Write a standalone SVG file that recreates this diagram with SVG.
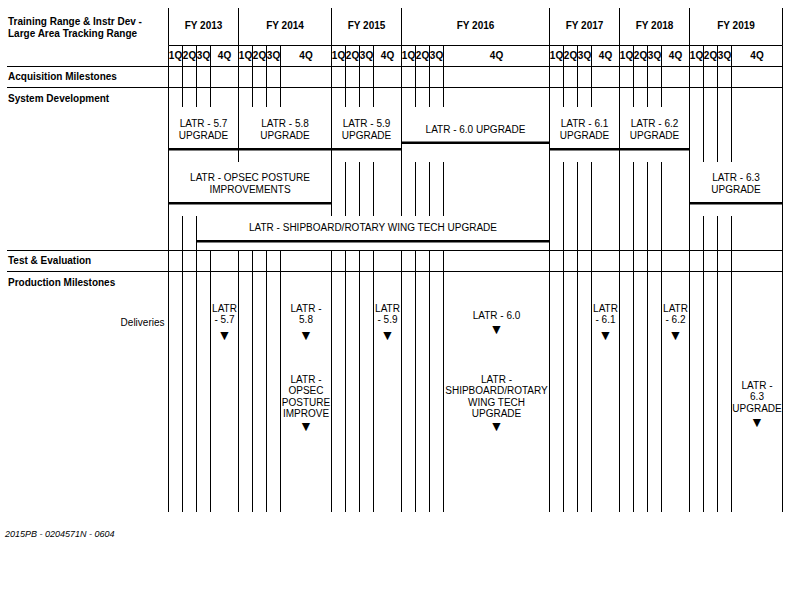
<svg xmlns="http://www.w3.org/2000/svg" width="792" height="612" viewBox="0 0 792 612">
<style>
text{font-family:"Liberation Sans",Arial,"DejaVu Sans",sans-serif;font-size:10px;fill:#000}
.b{font-weight:bold}
.m{text-anchor:middle}
.r{text-anchor:end}
.tri{font-size:14px}
.ft{font-size:9px;font-style:italic}
.g{stroke:#000;stroke-width:1;fill:none}
.t{stroke:#000;stroke-width:2.4;fill:none}
</style>
<rect width="792" height="612" fill="#fff"/>
<g id="connectors">
<path class="g" d="M168.5 8V45.5M238.5 8V45.5M331.5 8V45.5M401.5 8V45.5M549.5 8V45.5M619.5 8V45.5M689.5 8V45.5M782.5 8V45.5"/>
<path class="g" d="M168.5 45.5V107M182.5 45.5V107M196.5 45.5V107M210.5 45.5V107M238.5 45.5V107M252.5 45.5V107M266.5 45.5V107M280.5 45.5V107M331.5 45.5V107M345.5 45.5V107M359.5 45.5V107M373.5 45.5V107M401.5 45.5V107M415.5 45.5V107M429.5 45.5V107M443.5 45.5V107M549.5 45.5V107M563.5 45.5V107M577.5 45.5V107M591.5 45.5V107M619.5 45.5V107M633.5 45.5V107M647.5 45.5V107M661.5 45.5V107M689.5 45.5V107M703.5 45.5V107M717.5 45.5V107M731.5 45.5V107M782.5 45.5V107"/>
<path class="g" d="M168.5 107V162M238.5 107V162M331.5 107V162M401.5 107V162M549.5 107V162M619.5 107V162M689.5 107V162M703.5 107V162M717.5 107V162M731.5 107V162M782.5 107V162"/>
<path class="g" d="M168.5 162V216M331.5 162V216M345.5 162V216M359.5 162V216M373.5 162V216M401.5 162V216M415.5 162V216M429.5 162V216M443.5 162V216M549.5 162V216M563.5 162V216M577.5 162V216M591.5 162V216M619.5 162V216M633.5 162V216M647.5 162V216M661.5 162V216M689.5 162V216M782.5 162V216"/>
<path class="g" d="M168.5 216V250M182.5 216V250M196.5 216V250M549.5 216V250M563.5 216V250M577.5 216V250M591.5 216V250M619.5 216V250M633.5 216V250M647.5 216V250M661.5 216V250M689.5 216V250M703.5 216V250M717.5 216V250M731.5 216V250M782.5 216V250"/>
<path class="g" d="M168.5 250V512M182.5 250V512M196.5 250V512M210.5 250V512M238.5 250V512M252.5 250V512M266.5 250V512M280.5 250V512M331.5 250V512M345.5 250V512M359.5 250V512M373.5 250V512M401.5 250V512M415.5 250V512M429.5 250V512M443.5 250V512M549.5 250V512M563.5 250V512M577.5 250V512M591.5 250V512M619.5 250V512M633.5 250V512M647.5 250V512M661.5 250V512M689.5 250V512M703.5 250V512M717.5 250V512M731.5 250V512M782.5 250V512"/>
<path class="g" d="M168.5 45.5H782.5M7 66.5H782.5M7 87.5H782.5M7 250.5H782.5M7 271.5H782.5"/>
</g>
<g id="header">
<text class="b" x="8" y="25">Training Range &amp; Instr Dev -</text>
<text class="b" x="8" y="36.7">Large Area Tracking Range</text>
<text class="b m" x="203.5" y="28.5">FY 2013</text>
<text class="b m" x="285" y="28.5">FY 2014</text>
<text class="b m" x="366.5" y="28.5">FY 2015</text>
<text class="b m" x="475.5" y="28.5">FY 2016</text>
<text class="b m" x="584.5" y="28.5">FY 2017</text>
<text class="b m" x="654.5" y="28.5">FY 2018</text>
<text class="b m" x="736" y="28.5">FY 2019</text>
<g>
<text class="b m" x="175.5" y="58.5">1Q</text><text class="b m" x="189.5" y="58.5">2Q</text><text class="b m" x="203.5" y="58.5">3Q</text><text class="b m" x="224.5" y="58.5">4Q</text>
<text class="b m" x="245.5" y="58.5">1Q</text><text class="b m" x="259.5" y="58.5">2Q</text><text class="b m" x="273.5" y="58.5">3Q</text><text class="b m" x="306" y="58.5">4Q</text>
<text class="b m" x="338.5" y="58.5">1Q</text><text class="b m" x="352.5" y="58.5">2Q</text><text class="b m" x="366.5" y="58.5">3Q</text><text class="b m" x="387.5" y="58.5">4Q</text>
<text class="b m" x="408.5" y="58.5">1Q</text><text class="b m" x="422.5" y="58.5">2Q</text><text class="b m" x="436.5" y="58.5">3Q</text><text class="b m" x="496.5" y="58.5">4Q</text>
<text class="b m" x="556.5" y="58.5">1Q</text><text class="b m" x="570.5" y="58.5">2Q</text><text class="b m" x="584.5" y="58.5">3Q</text><text class="b m" x="605.5" y="58.5">4Q</text>
<text class="b m" x="626.5" y="58.5">1Q</text><text class="b m" x="640.5" y="58.5">2Q</text><text class="b m" x="654.5" y="58.5">3Q</text><text class="b m" x="675.5" y="58.5">4Q</text>
<text class="b m" x="696.5" y="58.5">1Q</text><text class="b m" x="710.5" y="58.5">2Q</text><text class="b m" x="724.5" y="58.5">3Q</text><text class="b m" x="757" y="58.5">4Q</text>
</g>
<text class="b" x="8" y="80">Acquisition Milestones</text>
<text class="b" x="8" y="101.7">System Development</text>
<text class="b" x="8" y="264">Test &amp; Evaluation</text>
<text class="b" x="8" y="285.5">Production Milestones</text>
<text class="r" x="164.5" y="326">Deliveries</text>
</g>
<g id="bar-5-7"><text class="m" x="203.5" y="127.3">LATR - 5.7</text><text class="m" x="203.5" y="138.8">UPGRADE</text><path class="t" d="M168.5 149.3H238.5"/></g>
<g id="bar-5-8"><text class="m" x="285" y="127.3">LATR - 5.8</text><text class="m" x="285" y="138.8">UPGRADE</text><path class="t" d="M238.5 149.3H331.5"/></g>
<g id="bar-5-9"><text class="m" x="366.5" y="127.3">LATR - 5.9</text><text class="m" x="366.5" y="138.8">UPGRADE</text><path class="t" d="M331.5 149.3H401.5"/></g>
<g id="bar-6-0"><text class="m" x="475.5" y="132.7">LATR - 6.0 UPGRADE</text><path class="t" d="M401.5 142.7H549.5"/></g>
<g id="bar-6-1"><text class="m" x="584.5" y="127.3">LATR - 6.1</text><text class="m" x="584.5" y="138.8">UPGRADE</text><path class="t" d="M549.5 149.3H619.5"/></g>
<g id="bar-6-2"><text class="m" x="654.5" y="127.3">LATR - 6.2</text><text class="m" x="654.5" y="138.8">UPGRADE</text><path class="t" d="M619.5 149.3H689.5"/></g>
<g id="bar-opsec"><text class="m" x="250" y="181.2">LATR - OPSEC POSTURE</text><text class="m" x="250" y="192.8">IMPROVEMENTS</text><path class="t" d="M168.5 203.3H331.5"/></g>
<g id="bar-6-3"><text class="m" x="736" y="181.2">LATR - 6.3</text><text class="m" x="736" y="192.8">UPGRADE</text><path class="t" d="M689.5 203.3H782.5"/></g>
<g id="bar-shipboard"><text class="m" x="373" y="230.7">LATR - SHIPBOARD/ROTARY WING TECH UPGRADE</text><path class="t" d="M196.5 241.2H549.5"/></g>
<g id="ms-5-7"><text class="m" x="224.5" y="311.7">LATR</text><text class="m" x="224.5" y="323.3">- 5.7</text><text class="m tri" x="224.5" y="339.5">▼</text></g>
<g id="ms-5-8"><text class="m" x="306" y="311.7">LATR -</text><text class="m" x="306" y="323.3">5.8</text><text class="m tri" x="306" y="339.5">▼</text></g>
<g id="ms-5-9"><text class="m" x="387.5" y="311.7">LATR</text><text class="m" x="387.5" y="323.3">- 5.9</text><text class="m tri" x="387.5" y="339.5">▼</text></g>
<g id="ms-6-0"><text class="m" x="496.5" y="319.3">LATR - 6.0</text><text class="m tri" x="496.5" y="334">▼</text></g>
<g id="ms-6-1"><text class="m" x="605.5" y="311.7">LATR</text><text class="m" x="605.5" y="323.3">- 6.1</text><text class="m tri" x="605.5" y="339.5">▼</text></g>
<g id="ms-6-2"><text class="m" x="675.5" y="311.7">LATR</text><text class="m" x="675.5" y="323.3">- 6.2</text><text class="m tri" x="675.5" y="339.5">▼</text></g>
<g id="ms-opsec"><text class="m" x="306" y="382.5">LATR -</text><text class="m" x="306" y="394.1">OPSEC</text><text class="m" x="306" y="405.7">POSTURE</text><text class="m" x="306" y="417.3">IMPROVE</text><text class="m tri" x="306" y="431.3">▼</text></g>
<g id="ms-shipboard"><text class="m" x="496.5" y="382.5">LATR -</text><text class="m" x="496.5" y="394.1">SHIPBOARD/ROTARY</text><text class="m" x="496.5" y="405.7">WING TECH</text><text class="m" x="496.5" y="417.3">UPGRADE</text><text class="m tri" x="496.5" y="431.3">▼</text></g>
<g id="ms-6-3"><text class="m" x="757" y="388.8">LATR -</text><text class="m" x="757" y="400.4">6.3</text><text class="m" x="757" y="412">UPGRADE</text><text class="m tri" x="757" y="426.5">▼</text></g>
<text class="ft" x="5" y="536.7">2015PB - 0204571N - 0604</text>
</svg>
